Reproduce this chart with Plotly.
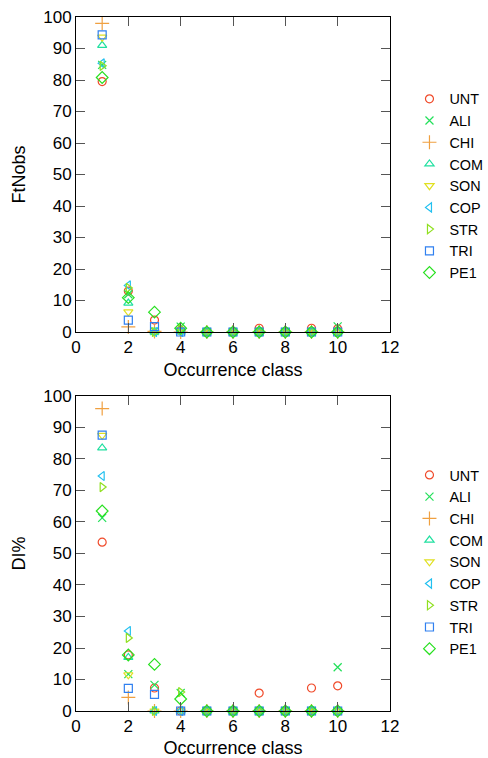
import plotly.graph_objects as go
from plotly.subplots import make_subplots

classes = [1, 2, 3, 4, 5, 6, 7, 8, 9, 10]
names = ["UNT", "ALI", "CHI", "COM", "SON", "COP", "STR", "TRI", "PE1"]

# FtNobs (top panel)
ft_UNT = [79.5, 13.0, 3.8, 0.5, 0, 0, 1.2, 0, 1.2, 1.0]
ft_ALI = [84.8, 12.0, 0.3, 1.7, 0, 0, 0, 0, 0, 1.8]
ft_CHI = [98.0, 1.6, 0.2, 0, 0, 0, 0, 0, 0, 0]
ft_COM = [91.0, 9.2, 0, 0, 0, 0, 0, 0, 0, 0]
ft_SON = [93.6, 6.4, 0, 0, 0, 0, 0, 0, 0, 0]
ft_COP = [85.3, 14.8, 0, 0, 0, 0, 0, 0, 0, 0]
ft_STR = [84.5, 14.0, 0, 1.0, 0, 0, 0, 0, 0, 0]
ft_TRI = [94.3, 3.8, 1.7, 0, 0, 0, 0, 0, 0, 0]
ft_PE1 = [80.8, 10.9, 6.3, 1.2, 0, 0, 0, 0, 0, 0]

# DI% (bottom panel)
di_UNT = [53.6, 17.8, 7.3, 0, 0, 0, 5.7, 0, 7.3, 8.0]
di_ALI = [61.3, 11.7, 8.3, 5.7, 0, 0, 0, 0, 0, 13.9]
di_CHI = [96.0, 4.3, 0, 0, 0, 0, 0, 0, 0, 0]
di_COM = [83.5, 17.0, 0, 0, 0, 0, 0, 0, 0, 0]
di_SON = [87.5, 11.5, 0, 0, 0, 0, 0, 0, 0, 0]
di_COP = [74.6, 25.4, 0, 0, 0, 0, 0, 0, 0, 0]
di_STR = [71.1, 23.2, 0, 6.0, 0, 0, 0, 0, 0, 0]
di_TRI = [87.6, 7.2, 5.3, 0, 0, 0, 0, 0, 0, 0]
di_PE1 = [63.5, 17.8, 14.8, 3.8, 0, 0, 0, 0, 0, 0]

ft_series = [ft_UNT, ft_ALI, ft_CHI, ft_COM, ft_SON, ft_COP, ft_STR, ft_TRI, ft_PE1]
di_series = [di_UNT, di_ALI, di_CHI, di_COM, di_SON, di_COP, di_STR, di_TRI, di_PE1]

colors = ["#f04a2a", "#22e05a", "#f0a040", "#20e0a0", "#e0e020",
          "#22c0f0", "#90e020", "#3080f0", "#28e020"]
symbols = ["circle-open", "x-thin-open", "cross-thin-open", "triangle-up-open",
           "triangle-down-open", "triangle-left-open", "triangle-right-open",
           "square-open", "diamond-open"]
sizes = [8, 8, 10, 8, 8, 8, 8, 8, 9]

FONT = "Liberation Sans, Arial, sans-serif"

fig = make_subplots(rows=2, cols=1, vertical_spacing=0.0923)

for i, n in enumerate(names):
    mk = dict(symbol=symbols[i], size=sizes[i], color=colors[i],
              line=dict(color=colors[i], width=1.2))
    fig.add_trace(go.Scatter(x=classes, y=ft_series[i], mode="markers", name=n,
                             marker=mk, cliponaxis=False, legend="legend"),
                  row=1, col=1)
for i, n in enumerate(names):
    mk = dict(symbol=symbols[i], size=sizes[i], color=colors[i],
              line=dict(color=colors[i], width=1.2))
    fig.add_trace(go.Scatter(x=classes, y=di_series[i], mode="markers", name=n,
                             marker=mk, cliponaxis=False, legend="legend2"),
                  row=2, col=1)

axis_common = dict(showgrid=False, zeroline=False, showline=True, linecolor="black",
                   linewidth=1, mirror="allticks", ticks="inside", ticklen=9,
                   tickcolor="#555555", tickwidth=1, automargin=False,
                   tickfont=dict(family=FONT, size=17, color="black"))

for r in (1, 2):
    fig.update_xaxes(range=[0, 12], dtick=2, tick0=0,
                     title=dict(text="Occurrence class", standoff=6,
                                font=dict(family=FONT, size=18, color="black")),
                     row=r, col=1, **axis_common)
fig.update_yaxes(range=[0, 100], dtick=10, tick0=0,
                 title=dict(text="FtNobs", standoff=12,
                            font=dict(family=FONT, size=18, color="black")),
                 row=1, col=1, **axis_common)
fig.update_yaxes(range=[0, 100], dtick=10, tick0=0,
                 title=dict(text="DI%", standoff=12,
                            font=dict(family=FONT, size=18, color="black")),
                 row=2, col=1, **axis_common)

leg_common = dict(xanchor="left", yanchor="top", bgcolor="rgba(0,0,0,0)",
                  font=dict(family=FONT, size=14.4, color="black"),
                  itemwidth=30, tracegroupgap=0)
fig.update_layout(
    width=488, height=758,
    margin=dict(l=76, r=98, t=17, b=47, autoexpand=False),
    paper_bgcolor="white", plot_bgcolor="white",
    font=dict(family=FONT, size=16, color="black"),
    legend=dict(x=1.062, y=0.905, **leg_common),
    legend2=dict(x=1.062, y=0.363, **leg_common),
)
fig.update_layout(yaxis=dict(domain=[0.5461, 1.0]), yaxis2=dict(domain=[0.0, 0.4539]))

fig.write_html(
    "out.html",
    config={"displayModeBar": False},
    post_script="document.body.style.margin='0';document.body.style.padding='0';"
                "document.body.style.overflow='hidden';",
)
